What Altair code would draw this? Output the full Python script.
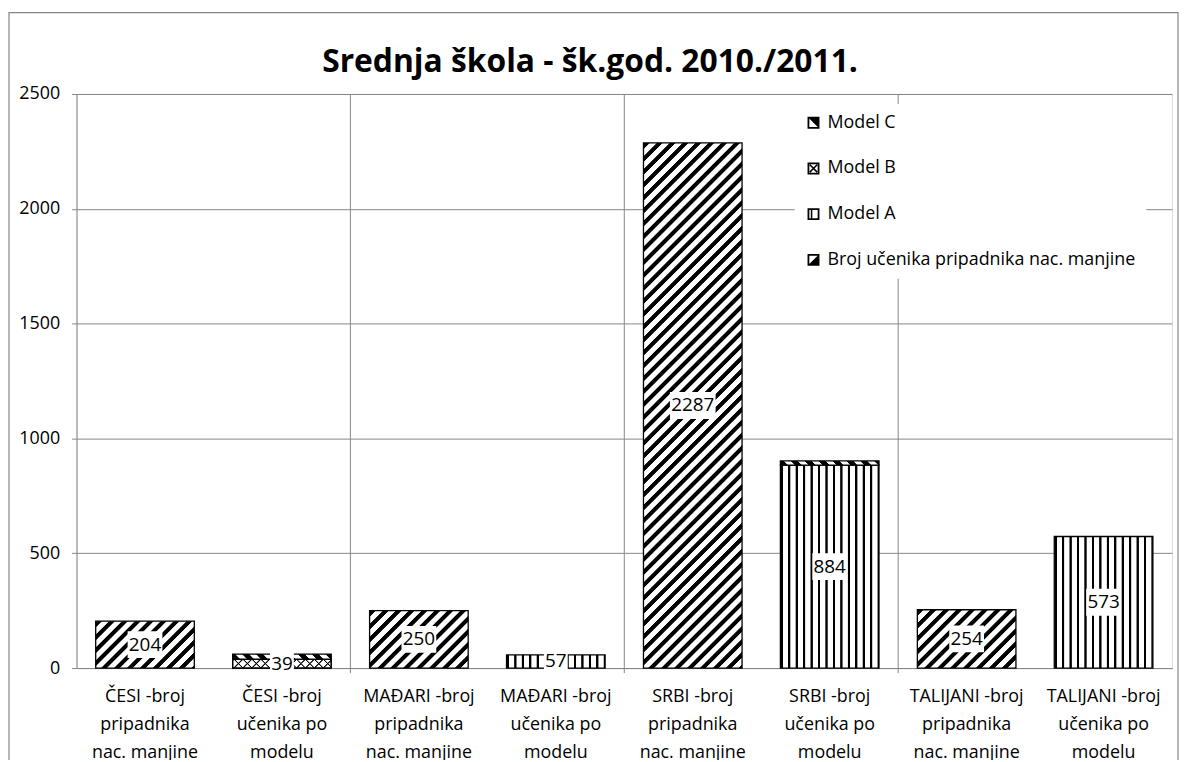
import math
import altair as alt
import pandas as pd

# ---------------- data ----------------
categories = [
    "ČESI -broj\npripadnika\nnac. manjine",
    "ČESI -broj\nučenika po\nmodelu",
    "MAĐARI -broj\npripadnika\nnac. manjine",
    "MAĐARI -broj\nučenika po\nmodelu",
    "SRBI -broj\npripadnika\nnac. manjine",
    "SRBI -broj\nučenika po\nmodelu",
    "TALIJANI -broj\npripadnika\nnac. manjine",
    "TALIJANI -broj\nučenika po\nmodelu",
]
broj = [204, 0, 250, 0, 2287, 0, 254, 0]
model_a = [0, 0, 0, 57, 0, 884, 0, 573]
model_b = [0, 39, 0, 0, 0, 0, 0, 0]
model_c = [0, 22, 0, 0, 0, 18, 0, 0]
series_names = ["Broj učenika pripadnika nac. manjine", "Model A", "Model B", "Model C"]
legend_order = ["Model C", "Model B", "Model A", "Broj učenika pripadnika nac. manjine"]
labelled_series = ["Broj učenika pripadnika nac. manjine", "Model A", "Model B"]
group_edges = [categories[2], categories[4], categories[6]]
y_ticks = [0, 500, 1000, 1500, 2000, 2500]
y_max = 2500
title_text = "Srednja škola - šk.god. 2010./2011."

# ---------------- layout ----------------
PLOT_W, PLOT_H = 1103, 578
PX = PLOT_H / y_max
STEP = PLOT_W / len(categories)
BAND = 0.72
BAR_W = BAND * STEP
FONT = "Open Sans"
GRID = "#868686"

rows = []
for i, cat in enumerate(categories):
    base = 0
    for s, vals in zip(series_names, [broj, model_a, model_b, model_c]):
        v = vals[i]
        if v > 0:
            rows.append(dict(cat=cat, series=s, value=v, y0=base, y1=base + v,
                             mid=base + v / 2, key=f"{i}|{s}"))
            base += v
df = pd.DataFrame(rows)


# ---------------- stripe patterns as linear gradients ----------------
def stripe_stops(length, period, duty, on, off, ramp=1.0):
    stops = []
    k = 0
    while True:
        s0 = k * period
        if s0 > length:
            break
        s1 = s0 + duty * period
        for s, col in [(s0, off), (s0 + ramp, on), (s1, on), (s1 + ramp, off)]:
            stops.append((min(max(s / length, 0.0), 1.0), col))
        k += 1
    return [alt.GradientStop(offset=o, color=c) for o, c in stops]


def diag_up(w, h, period, duty, on="black", off="white"):
    L = w + h
    c = L / (w * w + h * h)
    return alt.LinearGradient(gradient="linear", x1=0, y1=0, x2=c * w, y2=c * h,
                              stops=stripe_stops(L, period, duty, on, off))


def diag_down(w, h, period, duty, on="black", off="white"):
    L = w + h
    c = L / (w * w + h * h)
    return alt.LinearGradient(gradient="linear", x1=0, y1=1, x2=c * w, y2=1 - c * h,
                              stops=stripe_stops(L, period, duty, on, off))


def vertical(w, h, period, duty, on="black", off="white"):
    return alt.LinearGradient(gradient="linear", x1=0, y1=0, x2=1, y2=0,
                              stops=stripe_stops(w, period, duty, on, off, ramp=0.6))


XSCALE = alt.Scale(domain=categories, paddingInner=0, paddingOuter=0)
XAXIS = alt.Axis(labelExpr="split(datum.label, '\\n')", labelFont=FONT,
                 labelFontSize=18, labelColor="black", labelLineHeight=28,
                 labelPadding=20, labelAngle=0, labelLimit=300, ticks=False,
                 domainColor=GRID, grid=False)
X = alt.X("cat:N", sort=categories, title=None, scale=XSCALE, axis=XAXIS)
YSCALE = alt.Scale(domain=[0, y_max], nice=False, zero=True)
YAXIS = alt.Axis(values=y_ticks, format="d", title=None, grid=True, gridColor=GRID,
                 gridWidth=1, domainColor=GRID, tickColor=GRID, tickSize=5,
                 labelFont=FONT, labelFontSize=18, labelColor="black", labelPadding=12)

base = alt.Chart(df)
layers = []

# vertical grid lines between nationality groups (with the small tick below the axis)
edges = pd.DataFrame({"cat": group_edges})
layers.append(
    alt.Chart(edges).mark_rule(color=GRID, strokeWidth=1).encode(
        x=alt.X("cat:N", sort=categories, bandPosition=0, title=None,
                scale=XSCALE, axis=XAXIS),
        y=alt.datum(-22, type="quantitative", scale=YSCALE, axis=YAXIS),
        y2=alt.datum(y_max),
    )
)

# bar segments
for r in df.itertuples():
    h = r.value * PX
    if r.series == "Broj učenika pripadnika nac. manjine":
        fills = [diag_up(BAR_W, h, 13, 0.45)]
    elif r.series == "Model A":
        fills = [vertical(BAR_W, h, 7.5, 0.3)]
    elif r.series == "Model B":
        fills = [diag_up(BAR_W, h, 9, 0.18),
                 diag_down(BAR_W, h, 9, 0.18, off="rgba(255,255,255,0)")]
    else:
        fills = [diag_down(BAR_W, h, 14, 0.5)]
    for f in fills:
        layers.append(
            base.transform_filter(alt.datum.key == r.key).mark_bar(
                fill=f, stroke="black", strokeWidth=1.3,
                width=alt.RelativeBandSize(BAND)
            ).encode(
                x=X,
                y=alt.Y("y1:Q", scale=YSCALE, axis=YAXIS),
                y2="y0:Q",
            )
        )

# data labels with white boxes
lab = base.transform_filter(
    alt.FieldOneOfPredicate(field="series", oneOf=labelled_series)
).transform_calculate(
    n="length(toString(datum.value))",
).transform_calculate(
    bw="11 * datum.n + 2",
).transform_calculate(
    hh="13.5 / datum.bw",
).transform_calculate(
    boxpath="'M-1,' + (-2 * datum.hh) + 'H1V' + (2 * datum.hh) + 'H-1Z'",
    boxsize="datum.bw * datum.bw",
)
layers.append(
    lab.mark_point(filled=True, color="white", opacity=1, strokeWidth=0).encode(
        x=X,
        y=alt.Y("mid:Q", scale=YSCALE, axis=YAXIS),
        shape=alt.Shape("boxpath:N", scale=None, legend=None),
        size=alt.Size("boxsize:Q", scale=None, legend=None),
    )
)
layers.append(
    lab.mark_text(font=FONT, fontSize=19, color="black", baseline="middle").encode(
        x=X,
        y=alt.Y("mid:Q", scale=YSCALE, axis=YAXIS),
        text=alt.Text("value:Q"),
    )
)

# legend (custom pattern-like icons)
ring = "M-1,-1H1V1H-1Z M-0.7,-0.7V0.7H0.7V-0.7Z"
icon_c = ring + " M-1,-1L1,-1L1,1Z"
icon_b = ring + (" M-0.7,-0.52L-0.52,-0.7L0.7,0.52L0.52,0.7Z"
                 " M0.52,-0.7L0.7,-0.52L-0.52,0.7L-0.7,0.52Z")
icon_a = ring + " M-0.45,-0.7H-0.2V0.7H-0.45Z"
icon_broj = ring + " M1,-1L1,1L-1,1Z"
layers.append(
    base.mark_point(filled=True, color="black", opacity=0).encode(
        x=X,
        y=alt.Y("y1:Q", scale=YSCALE, axis=YAXIS),
        shape=alt.Shape(
            "series:N",
            scale=alt.Scale(domain=legend_order, range=[icon_c, icon_b, icon_a, icon_broj]),
            legend=alt.Legend(
                title=None, orient="none", legendX=723, legendY=10,
                fillColor="white", padding=10, labelFont=FONT, labelFontSize=18,
                labelColor="black", labelOffset=5, symbolSize=144,
                symbolFillColor="black", symbolStrokeWidth=0, symbolOpacity=1,
                rowPadding=28, labelLimit=400,
            ),
        ),
    )
)

# chart title
layers.append(
    alt.Chart(pd.DataFrame({"t": [title_text]})).mark_text(
        font=FONT, fontSize=32, fontWeight="bold", color="black",
        align="center", baseline="alphabetic"
    ).encode(text="t:N", x=alt.value(517), y=alt.value(-22))
)

# outer chart border
layers.append(
    alt.Chart(pd.DataFrame({"f": [0]})).mark_rect(
        fillOpacity=0, stroke=GRID, strokeWidth=1.2
    ).encode(x=alt.value(-68), x2=alt.value(1109), y=alt.value(-82), y2=alt.value(720))
)

chart = alt.layer(*layers).resolve_scale(shape="independent", size="independent").properties(
    width=PLOT_W,
    height=PLOT_H,
    autosize=alt.AutoSizeParams(type="none"),
    padding={"left": 69, "top": 84, "right": 8, "bottom": 90},
).configure_view(strokeWidth=0).configure(background="white")

chart.save("out.html", embed_options={"renderer": "svg", "actions": False})
